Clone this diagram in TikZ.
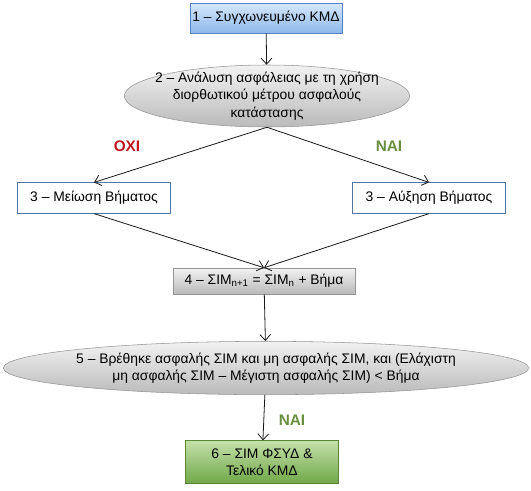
\documentclass[tikz,border=0pt]{standalone}
\usepackage{fontspec}
\setmainfont{Liberation Sans}
\usepackage{tikz}
\usetikzlibrary{arrows,arrows.meta,shapes.geometric,shadows}

\definecolor{bluchiaro}{RGB}{214,232,252}
\definecolor{blu}{RGB}{142,184,234}
\definecolor{bordoblu}{RGB}{84,130,196}
\definecolor{bordo}{RGB}{80,118,160}
\definecolor{grigiochiaro}{RGB}{242,242,242}
\definecolor{grigio}{RGB}{186,186,186}
\definecolor{verdechiaro}{RGB}{196,224,170}
\definecolor{verde}{RGB}{112,168,72}
\definecolor{rosso}{RGB}{192,22,32}
\definecolor{verdenai}{RGB}{104,142,62}

\tikzset{
    blocco/.style={draw=bordo, fill=white, rectangle, align=center, inner sep=0pt,
        minimum width=115pt, minimum height=23pt, font=\fontsize{10.4}{13}\selectfont},
    ovale/.style={draw=grigio!80!black, ellipse, align=center, inner xsep=-30pt, inner ysep=-8pt,
        top color=grigiochiaro, bottom color=grigio, font=\fontsize{10.4}{13}\selectfont},
    freccia/.style={-{Straight Barb[length=4.5pt,width=8pt]}, semithick, black!90},
    risposta/.style={font=\fontsize{11.5}{13}\selectfont\bfseries}
}

\begin{document}
\begin{tikzpicture}[x=0.75pt, y=-0.75pt]
\useasboundingbox (0,0) rectangle (531,490);

% Blocchi
\node[blocco, draw=bordoblu, top color=bluchiaro, bottom color=blu, minimum width=114pt, minimum height=22.5pt] (b1) at (266,18) {1 – Συγχωνευμένο ΚΜΔ};
\node[ovale, minimum width=214pt, minimum height=46.5pt] (e2) at (267,96) {2 – Ανάλυση ασφάλειας με τη χρήση\\διορθωτικού μέτρου ασφαλούς\\κατάστασης};
\node[blocco] (b3m) at (94,198) {3 – Μείωση Βήματος};
\node[blocco] (b3a) at (429,198) {3 – Αύξηση Βήματος};
\node[blocco, draw=grigio!80!black, top color=grigiochiaro, bottom color=grigio, minimum width=136.5pt, minimum height=19.5pt] (b4) at (264,281) {4 – ΣΙΜ\textsubscript{n+1} = ΣΙΜ\textsubscript{n} + Βήμα};
\node[ovale, minimum width=394pt, minimum height=40pt] (e5) at (266,368) {5 – Βρέθηκε ασφαλής ΣΙΜ και μη ασφαλής ΣΙΜ, και (Ελάχιστη\\μη ασφαλής ΣΙΜ – Μέγιστη ασφαλής ΣΙΜ) < Βήμα};
\node[blocco, draw=verde!80!black, top color=verdechiaro, bottom color=verde, minimum height=32pt] (b6) at (262,462) {6 – ΣΙΜ ΦΣΥΔ \&\\Τελικό ΚΜΔ};

% Risposte
\node[risposta, text=rosso] (no) at (127,146) {ΟΧΙ};
\node[risposta, text=verdenai] (si1) at (389,146) {ΝΑΙ};
\node[risposta, text=verdenai] (si2) at (292,420) {ΝΑΙ};

% Frecce
\draw[freccia] (b1) -- (e2);
\draw[freccia] (e2.south) -- (b3m.north);
\draw[freccia] (e2.south) -- (b3a.north);
\draw[freccia] (b3m.south) -- (b4.north);
\draw[freccia] (b3a.south) -- (b4.north);
\draw[freccia] (b4) -- (e5);
\draw[freccia] (e5) -- (b6);

\end{tikzpicture}
\end{document}
